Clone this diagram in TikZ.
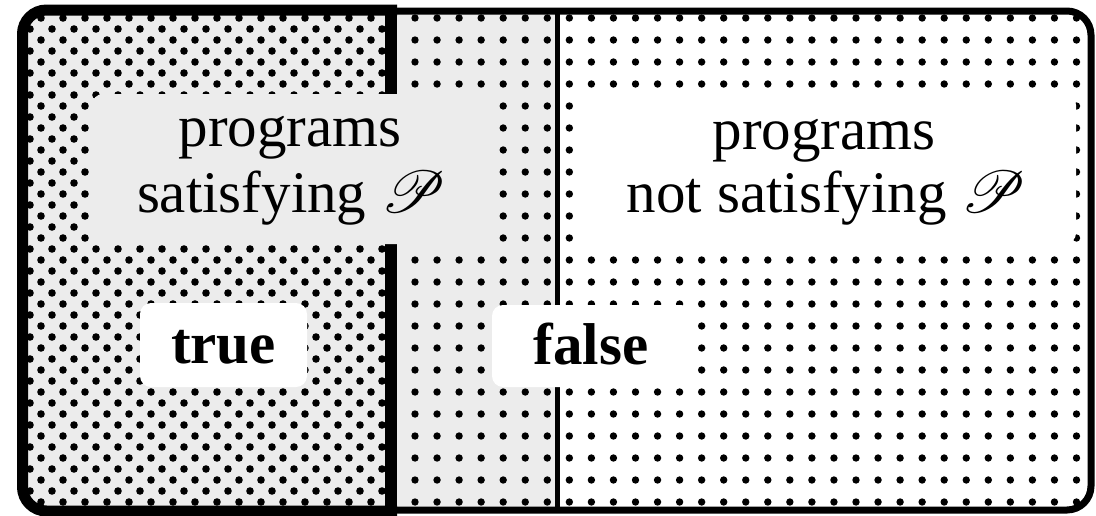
\documentclass[tikz,border=0pt]{standalone}
\usepackage{fontspec}
\setmainfont{Liberation Serif}
\DeclareFontFamily{U}{myrsfs}{\skewchar\font127 }
\DeclareFontShape{U}{myrsfs}{m}{n}{<-> rsfs10}{}
\newcommand{\scrP}{{\usefont{U}{myrsfs}{m}{n}P}}
\definecolor{bggray}{RGB}{236,236,236}
\tikzset{
  labbox/.style={rounded corners=11pt, inner sep=0pt, draw=none},
  big/.style={font=\fontsize{59}{67}\selectfont, inner sep=0pt},
  bigb/.style={font=\fontsize{59}{67}\selectfont\bfseries, inner sep=0pt},
  dotfill/.style={fill=black},
}
\begin{document}
\begin{tikzpicture}[x=1pt,y=-1pt]
\useasboundingbox (0,0) rectangle (1096,515);
% backgrounds and dot patterns
\begin{scope}
  \clip[rounded corners=24pt] (21,11) rectangle (1091,510);
  \fill[bggray] (0,0) rectangle (557,515);
  \fill[white] (557,0) rectangle (1096,515);
  \begin{scope}
    \clip (0,0) rectangle (391,515);
    \foreach \j in {0,...,22} \foreach \k in {0,...,17} {
      \fill[dotfill] (19+22*\k, 18+22*\j) circle[radius=3.8pt];
      \fill[dotfill] (30+22*\k, 29+22*\j) circle[radius=3.8pt];
    }
  \end{scope}
  \begin{scope}
    \clip (391,0) rectangle (1096,515);
    \foreach \j in {0,...,22} \foreach \k in {0,...,30} {
      \fill[dotfill] (415+22.05*\k, 18+22*\j) circle[radius=3.7pt];
    }
  \end{scope}
\end{scope}
% thin divider
\draw[line width=5pt] (557.5,11) -- (557.5,510);
% outer frame
\draw[line width=7pt, rounded corners=24pt] (21,11) rectangle (1091,510);
% left region thick frame
\begin{scope}
  \clip (0,0) rectangle (397,515);
  \draw[line width=11pt, rounded corners=24pt] (22.5,10) rectangle (450,511);
\end{scope}
\draw[line width=12pt] (391,4.5) -- (391,515);
% label boxes
\node[labbox, fill=bggray, minimum width=406pt, minimum height=150pt] (lbox) at (295,169) {};
\node[labbox, fill=white, minimum width=498pt, minimum height=150pt] (rbox) at (827,169) {};
\node[labbox, fill=white, minimum width=167pt, minimum height=84pt] (tbox) at (223.5,345) {};
\node[labbox, fill=white, minimum width=200pt, minimum height=82pt] (fbox) at (592,346) {};
% texts
\node[big, anchor=base] (l1) at (290,146) {programs};
\node[big, anchor=base] (l2) at (289,212) {satisfying \scrP};
\node[big, anchor=base] (r1) at (824,149) {programs};
\node[big, anchor=base] (r2) at (824,212) {not satisfying \scrP};
\node[bigb, anchor=base] (t) at (223.5,363) {true};
\node[bigb, anchor=base] (f) at (591,364) {false};
\end{tikzpicture}
\end{document}
